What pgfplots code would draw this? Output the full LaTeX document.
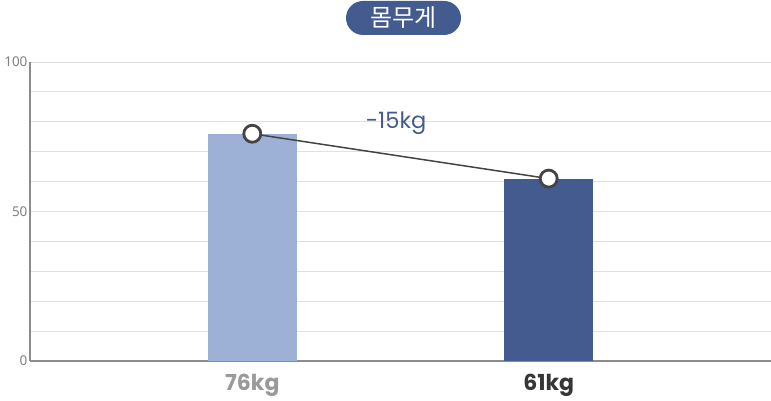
\documentclass[border=0pt]{standalone}
\usepackage{pgfplots}
\pgfplotsset{compat=1.18}
\usepackage{fontspec}
\setmainfont{Noto Sans}
\newfontfamily\pop{Poppins}
\newfontfamily\kr{Noto Sans CJK KR}

\definecolor{barlight}{RGB}{157,176,214}
\definecolor{bardark}{RGB}{67,91,142}
\definecolor{gridgray}{RGB}{224,224,224}
\definecolor{axisgray}{RGB}{140,140,140}
\definecolor{ticktext}{RGB}{128,128,128}
\definecolor{linegray}{RGB}{68,68,68}

\begin{document}
\begin{tikzpicture}[x=1pt,y=1pt]
\path[use as bounding box] (0,0) rectangle (771,401);

\begin{axis}[
at={(30pt,40pt)}, anchor=south west,
scale only axis,
width=741pt, height=299pt,
xmin=-0.75, xmax=1.75,
ymin=0, ymax=100,
axis lines*=left,
axis line style={axisgray, line width=1.6pt},
xtick={0,1},
xticklabels={{\textcolor{ticktext!80}{\bfseries 76kg}},{\textcolor{linegray!80!black}{\bfseries 61kg}}},
x tick label style={font=\pop\fontsize{22}{26}\selectfont, yshift=-5pt},
ytick={0,50,100},
minor ytick={10,20,30,40,60,70,80,90},
y tick label style={font=\fontsize{13.5}{16}\selectfont, text=ticktext, xshift=1pt},
/pgf/number format/assume math mode=true,
ymajorgrids, yminorgrids,
major grid style={gridgray, line width=0.8pt},
minor grid style={gridgray, line width=0.8pt},
tick style={draw=none},
ybar, bar width=89pt, bar shift=0pt,
clip=false,
]
\addplot[fill=barlight, draw=none] coordinates {(0,76)};
\addplot[fill=bardark, draw=none] coordinates {(1,61)};
\addplot[sharp plot, linegray, line width=1.5pt, mark=*, mark size=8.5pt,
  mark options={fill=white, draw=linegray, line width=2.8pt}]
  coordinates {(0,76) (1,61)};
\node[text=bardark, font=\pop\fontsize{22.5}{26}\selectfont] at (axis cs:0.485,79.5) {-15kg};
\end{axis}

\node[fill=bardark, rounded corners=17pt, minimum width=115pt, minimum height=34pt,
  inner sep=0pt, text=white, font=\kr\fontsize{24}{28}\selectfont] at (403.5,383) {몸무게};
\end{tikzpicture}
\end{document}
